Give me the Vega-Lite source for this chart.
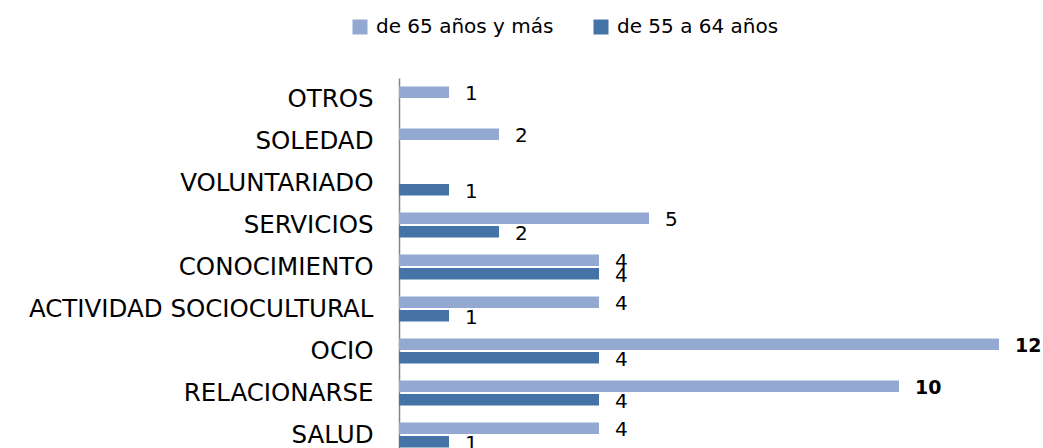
{
  "$schema": "https://vega.github.io/schema/vega-lite/v6.json",
  "width": 640,
  "height": 378,
  "autosize": "none",
  "padding": {"left": 399, "top": 78, "right": 4, "bottom": 0},
  "background": "white",
  "config": {"view": {"stroke": null}, "font": "DejaVu Sans"},
  "data": {"values": [
    {"categoria": "OTROS", "grupo": "de 65 años y más", "valor": 1},
    {"categoria": "SOLEDAD", "grupo": "de 65 años y más", "valor": 2},
    {"categoria": "VOLUNTARIADO", "grupo": "de 55 a 64 años", "valor": 1},
    {"categoria": "SERVICIOS", "grupo": "de 65 años y más", "valor": 5},
    {"categoria": "SERVICIOS", "grupo": "de 55 a 64 años", "valor": 2},
    {"categoria": "CONOCIMIENTO", "grupo": "de 65 años y más", "valor": 4},
    {"categoria": "CONOCIMIENTO", "grupo": "de 55 a 64 años", "valor": 4},
    {"categoria": "ACTIVIDAD SOCIOCULTURAL", "grupo": "de 65 años y más", "valor": 4},
    {"categoria": "ACTIVIDAD SOCIOCULTURAL", "grupo": "de 55 a 64 años", "valor": 1},
    {"categoria": "OCIO", "grupo": "de 65 años y más", "valor": 12},
    {"categoria": "OCIO", "grupo": "de 55 a 64 años", "valor": 4},
    {"categoria": "RELACIONARSE", "grupo": "de 65 años y más", "valor": 10},
    {"categoria": "RELACIONARSE", "grupo": "de 55 a 64 años", "valor": 4},
    {"categoria": "SALUD", "grupo": "de 65 años y más", "valor": 4},
    {"categoria": "SALUD", "grupo": "de 55 a 64 años", "valor": 1}
  ]},
  "encoding": {
    "y": {
      "field": "categoria", "type": "nominal",
      "sort": ["OTROS", "SOLEDAD", "VOLUNTARIADO", "SERVICIOS", "CONOCIMIENTO", "ACTIVIDAD SOCIOCULTURAL", "OCIO", "RELACIONARSE", "SALUD"],
      "scale": {"paddingInner": 0.41, "paddingOuter": 0.205},
      "axis": {
        "title": null, "ticks": false, "domainColor": "#868686", "domainWidth": 1.5,
        "labelFontSize": 24.5, "labelColor": "#000000", "labelPadding": 26, "labelLimit": 500,
        "labelFont": "DejaVu Sans", "labelOffset": 1
      }
    },
    "yOffset": {
      "field": "grupo", "type": "nominal",
      "sort": ["de 65 años y más", "de 55 a 64 años"],
      "scale": {"paddingInner": 0.16}
    },
    "x": {
      "field": "valor", "type": "quantitative",
      "scale": {"domain": [0, 12.8], "nice": false},
      "axis": null
    }
  },
  "layer": [
    {
      "mark": {"type": "bar"},
      "encoding": {
        "color": {
          "field": "grupo", "type": "nominal",
          "scale": {"domain": ["de 65 años y más", "de 55 a 64 años"], "range": ["#94A9D1", "#4572A7"]},
          "legend": {
            "title": null, "orient": "none", "direction": "horizontal",
            "legendX": -49, "legendY": -61, "padding": 0,
            "symbolType": "square", "symbolSize": 225, "symbolStrokeWidth": 0,
            "labelFontSize": 20, "labelFont": "DejaVu Sans", "labelColor": "#000000",
            "labelOffset": 6, "columnPadding": 37, "labelLimit": 400
          }
        }
      }
    },
    {
      "transform": [{"filter": "datum.valor < 10"}],
      "mark": {"type": "text", "align": "left", "baseline": "middle", "dx": 16, "dy": 2, "fontSize": 20, "color": "#000000"},
      "encoding": {"text": {"field": "valor", "type": "quantitative"}}
    },
    {
      "transform": [{"filter": "datum.valor >= 10"}],
      "mark": {"type": "text", "align": "left", "baseline": "middle", "dx": 16, "dy": 2, "fontSize": 19, "fontWeight": "bold", "color": "#000000"},
      "encoding": {"text": {"field": "valor", "type": "quantitative"}}
    }
  ]
}
